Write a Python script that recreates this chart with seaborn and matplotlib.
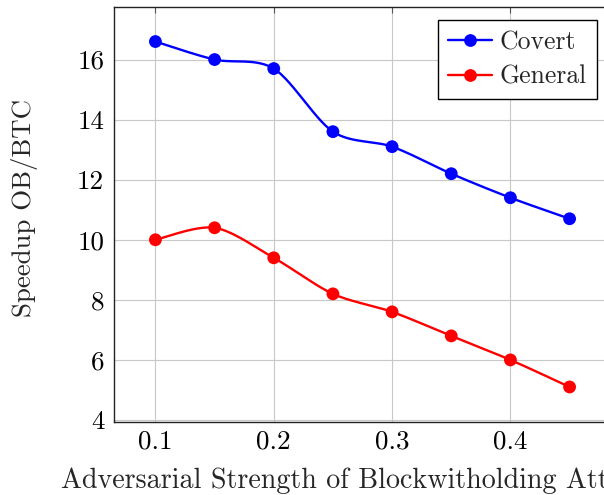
import numpy as np
import pandas as pd
import matplotlib
matplotlib.use("Agg")
import matplotlib.pyplot as plt
from matplotlib.lines import Line2D
import seaborn as sns

# ---- data ----
strength = [0.10, 0.15, 0.20, 0.25, 0.30, 0.35, 0.40, 0.45]
covert = [16.6, 16.0, 15.7, 13.6, 13.1, 12.2, 11.4, 10.7]
general = [10.0, 10.4, 9.4, 8.2, 7.6, 6.8, 6.0, 5.1]
series_names = ["Covert", "General"]
series_colors = ["#0000ff", "#ff0000"]
x_ticks = [0.1, 0.2, 0.3, 0.4]
y_ticks = [4, 6, 8, 10, 12, 14, 16]

sns.set_theme(style="white")
plt.rcParams['font.family'] = ['cmr10', 'DejaVu Serif']
plt.rcParams['mathtext.fontset'] = 'cm'
plt.rcParams['axes.formatter.use_mathtext'] = True

W, H = 604, 495
fig = plt.figure(figsize=(W / 100, H / 100), dpi=100)
ax_l, ax_r, ax_t, ax_b = 114, 611, 7, 421.5
aw, ah = ax_r - ax_l, ax_b - ax_t
ax = fig.add_axes([ax_l / W, 1 - ax_b / H, aw / W, ah / H])


def smooth(xs, ys, k=0.15, n=30):
    """Bezier smoothing like TikZ 'smooth' (curve through the data points)."""
    P = np.column_stack([xs, ys]).astype(float)
    m = len(P)
    out = []
    for i in range(m - 1):
        p0 = P[i]
        p3 = P[i + 1]
        pm = P[i - 1] if i > 0 else P[i]
        pp = P[i + 2] if i + 2 < m else P[i + 1]
        c1 = p0 + k * (p3 - pm)
        c2 = p3 - k * (pp - p0)
        t = np.linspace(0, 1, n)[:, None]
        seg = (1 - t) ** 3 * p0 + 3 * (1 - t) ** 2 * t * c1 + 3 * (1 - t) * t ** 2 * c2 + t ** 3 * p3
        out.append(seg if i == 0 else seg[1:])
    S = np.vstack(out)
    return S[:, 0], S[:, 1]


df = pd.DataFrame({
    "strength": strength * 2,
    "speedup": covert + general,
    "series": [series_names[0]] * len(strength) + [series_names[1]] * len(strength),
})

for name, col, vals in zip(series_names, series_colors, [covert, general]):
    sx, sy = smooth(strength, vals)
    ax.plot(sx, sy, color=col, lw=1.7, zorder=3, solid_capstyle='round')

sns.scatterplot(data=df, x="strength", y="speedup", hue="series",
                palette=dict(zip(series_names, series_colors)),
                s=85, edgecolor="none", legend=False, ax=ax, zorder=4)

ax.set_xlim(0.065, 0.485)
ax.set_ylim(3.95, 17.75)
ax.set_xticks(x_ticks)
ax.set_xticklabels([f"{v:.1f}" for v in x_ticks])
ax.set_yticks(y_ticks)
ax.set_yticklabels([str(v) for v in y_ticks])

ax.grid(True, color="#c8c8c8", lw=0.8)
ax.set_axisbelow(True)
for s in ax.spines.values():
    s.set_color("#222222")
    s.set_linewidth(1.0)
    s.set_visible(True)

ax.tick_params(axis='both', direction='in', length=4, width=0.8, color="#555555",
               top=True, right=True, labelsize=19.5, labelcolor="black")
ax.tick_params(axis='y', pad=7)
ax.tick_params(axis='x', pad=6)

ax.set_xlabel("Adversarial Strength of Blockwitholding Attack", fontsize=20.2,
              ha='left', va='baseline')
ax.set_ylabel("Speedup OB/BTC", fontsize=19.3, ha='center', va='center')
ax.xaxis.set_label_coords((61 - ax_l) / aw, -(488 - ax_b) / ah)
ax.yaxis.set_label_coords((25 - ax_l) / aw, (ax_b - 208) / ah)

handles = [Line2D([0], [0], color=c, lw=1.7, marker='o', markersize=9.2, markeredgewidth=0)
           for c in series_colors]
leg = ax.legend(handles, series_names, loc='upper right',
                bbox_to_anchor=(597 / W, 1 - 20 / H), bbox_transform=fig.transFigure,
                borderaxespad=0, fancybox=False, framealpha=1, edgecolor="black",
                fontsize=18.5, handlelength=1.7, handletextpad=0.3, labelspacing=0.42,
                borderpad=0.4)
leg.get_frame().set_linewidth(1.0)

fig.savefig("out.png", dpi=100)
